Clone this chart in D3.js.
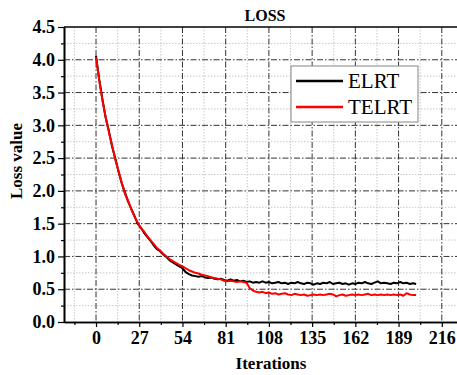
<!DOCTYPE html>
<html>
<head>
<meta charset="utf-8">
<script src="https://cdn.jsdelivr.net/npm/d3@7"></script>
<style>
  body { margin: 0; background: #fff; }
  svg { display: block; }
  svg text { font-family: "Liberation Serif", "Times New Roman", serif; }
</style>
</head>
<body>
<svg id="chart" width="457" height="375"></svg>
<script>
// iterations sampled every 2 steps
var iters = d3.range(0, 201, 2);

var elrt = [4.06, 3.70, 3.40, 3.12, 2.92, 2.68, 2.50, 2.30, 2.12, 1.98,
  1.84, 1.73, 1.62, 1.50, 1.44, 1.36, 1.30, 1.24, 1.17, 1.11,
  1.08, 1.03, 0.99, 0.94, 0.91, 0.88, 0.85, 0.82, 0.76, 0.73,
  0.71, 0.70, 0.69, 0.70, 0.68, 0.67, 0.68, 0.66, 0.65, 0.66,
  0.64, 0.63, 0.65, 0.63, 0.64, 0.62, 0.63, 0.61, 0.62, 0.60,
  0.61, 0.60, 0.62, 0.60, 0.61, 0.59, 0.60, 0.61, 0.59, 0.60,
  0.58, 0.60, 0.59, 0.61, 0.59, 0.58, 0.60, 0.59, 0.57, 0.59,
  0.58, 0.60, 0.59, 0.61, 0.58, 0.59, 0.60, 0.58, 0.59, 0.57,
  0.59, 0.58, 0.60, 0.59, 0.61, 0.59, 0.58, 0.60, 0.62, 0.59,
  0.60, 0.59, 0.58, 0.60, 0.59, 0.61, 0.59, 0.60, 0.58, 0.59, 0.58];

var telrt = [4.04, 3.69, 3.38, 3.13, 2.90, 2.70, 2.48, 2.31, 2.13, 1.96,
  1.85, 1.72, 1.61, 1.52, 1.43, 1.38, 1.31, 1.25, 1.19, 1.13,
  1.09, 1.04, 1.00, 0.96, 0.93, 0.90, 0.87, 0.85, 0.82, 0.79,
  0.77, 0.75, 0.74, 0.72, 0.71, 0.70, 0.68, 0.67, 0.66, 0.65,
  0.63, 0.62, 0.63, 0.62, 0.61, 0.62, 0.61, 0.60, 0.52, 0.48,
  0.46, 0.45, 0.46, 0.44, 0.45, 0.43, 0.44, 0.42, 0.43, 0.44,
  0.42, 0.41, 0.43, 0.42, 0.41, 0.42, 0.40, 0.41, 0.42, 0.41,
  0.42, 0.41, 0.42, 0.43, 0.42, 0.39, 0.41, 0.42, 0.40, 0.41,
  0.42, 0.41, 0.42, 0.41, 0.42, 0.43, 0.41, 0.42, 0.41, 0.42,
  0.41, 0.42, 0.41, 0.42, 0.41, 0.42, 0.40, 0.44, 0.42, 0.41, 0.41];

var xTicks = [0, 27, 54, 81, 108, 135, 162, 189, 216];
var xMinor = [-13.5, 13.5, 40.5, 67.5, 94.5, 121.5, 148.5, 175.5, 202.5];
var yTicks = [0, 0.5, 1, 1.5, 2, 2.5, 3, 3.5, 4, 4.5];
var yMinor = [0.25, 0.75, 1.25, 1.75, 2.25, 2.75, 3.25, 3.75, 4.25];
var seriesNames = ["ELRT", "TELRT"];
var seriesColors = ["#000000", "#ff0000"];

var svg = d3.select("#chart");
var pLeft = 64, pTop = 27, pRight = 457, pBottom = 322;

var x = d3.scaleLinear().domain([-20, 225.5]).range([pLeft, pRight]);
var y = d3.scaleLinear().domain([0, 4.5]).range([pBottom, pTop]);

var font = "'Liberation Serif', 'Times New Roman', serif";

//// minor grid (dotted, light)
var grid = svg.append("g");
grid.selectAll(".mx").data(xMinor).join("line")
  .attr("x1", d => x(d)).attr("x2", d => x(d))
  .attr("y1", pTop).attr("y2", pBottom)
  .attr("stroke", "#c8c8c8").attr("stroke-width", 1)
  .attr("stroke-dasharray", "1.5,1.5");
grid.selectAll(".my").data(yMinor).join("line")
  .attr("x1", pLeft).attr("x2", pRight)
  .attr("y1", d => y(d)).attr("y2", d => y(d))
  .attr("stroke", "#c8c8c8").attr("stroke-width", 1)
  .attr("stroke-dasharray", "1.5,1.5");

//// major grid (dash dot)
grid.selectAll(".gx").data(xTicks).join("line")
  .attr("x1", d => x(d)).attr("x2", d => x(d))
  .attr("y1", pTop).attr("y2", pBottom)
  .attr("stroke", "#333").attr("stroke-width", 1)
  .attr("stroke-dasharray", "6,2,1.5,2");
grid.selectAll(".gy").data(yTicks.slice(1, -1)).join("line")
  .attr("x1", pLeft).attr("x2", pRight)
  .attr("y1", d => y(d)).attr("y2", d => y(d))
  .attr("stroke", "#333").attr("stroke-width", 1)
  .attr("stroke-dasharray", "6,2,1.5,2");

//// data lines
var line = d3.line().x((d, i) => x(iters[i])).y(d => y(d));
[elrt, telrt].forEach(function (s, k) {
  svg.append("path")
    .datum(s)
    .attr("fill", "none")
    .attr("stroke", seriesColors[k])
    .attr("stroke-width", 2)
    .attr("stroke-linejoin", "round")
    .attr("d", line);
});

//// axes
svg.append("g")
  .attr("transform", `translate(0,${pBottom})`)
  .call(d3.axisBottom(x).tickValues(xTicks).tickSize(5).tickSizeOuter(0).tickPadding(4));
svg.append("g")
  .attr("transform", `translate(0,${pBottom})`)
  .call(d3.axisBottom(x).tickValues(xMinor).tickSize(3).tickFormat("").tickSizeOuter(0));

svg.append("g")
  .attr("transform", `translate(${pLeft},0)`)
  .call(d3.axisLeft(y).tickValues(yTicks).tickFormat(d3.format(".1f")).tickSize(6).tickSizeOuter(0).tickPadding(3));
svg.append("g")
  .attr("transform", `translate(${pLeft},0)`)
  .call(d3.axisLeft(y).tickValues(yMinor).tickSize(3).tickFormat("").tickSizeOuter(0));

svg.selectAll(".domain").attr("stroke", "#000").attr("stroke-width", 1.6);
svg.selectAll(".tick line").attr("stroke", "#000").attr("stroke-width", 1.2);
svg.selectAll(".tick text")
  .style("font-family", font).style("font-weight", "bold")
  .style("font-size", "18px").attr("fill", "#000");

// top frame line
svg.append("line")
  .attr("x1", pLeft).attr("x2", pRight)
  .attr("y1", pTop).attr("y2", pTop)
  .attr("stroke", "#000").attr("stroke-width", 1.6);

//// titles
svg.append("text")
  .attr("x", 265).attr("y", 21)
  .attr("text-anchor", "middle")
  .style("font-family", font).style("font-weight", "bold").style("font-size", "16px")
  .text("LOSS");

svg.append("text")
  .attr("x", 271).attr("y", 369)
  .attr("text-anchor", "middle")
  .style("font-family", font).style("font-weight", "bold").style("font-size", "17px")
  .text("Iterations");

svg.append("text")
  .attr("transform", "translate(22,161) rotate(-90)")
  .attr("text-anchor", "middle")
  .style("font-family", font).style("font-weight", "bold").style("font-size", "17px")
  .text("Loss value");

//// legend
var lg = svg.append("g").attr("transform", "translate(291,66)");
lg.append("rect")
  .attr("width", 127).attr("height", 56)
  .attr("fill", "#fff").attr("stroke", "#999").attr("stroke-width", 1.2);
seriesNames.forEach(function (name, i) {
  var yy = 15 + i * 26;
  lg.append("line")
    .attr("x1", 5).attr("x2", 52)
    .attr("y1", yy).attr("y2", yy)
    .attr("stroke", seriesColors[i]).attr("stroke-width", 2.5);
  lg.append("text")
    .attr("x", 57).attr("y", yy + 7)
    .style("font-family", font).style("font-size", "21px")
    .text(name);
});
</script>
</body>
</html>
